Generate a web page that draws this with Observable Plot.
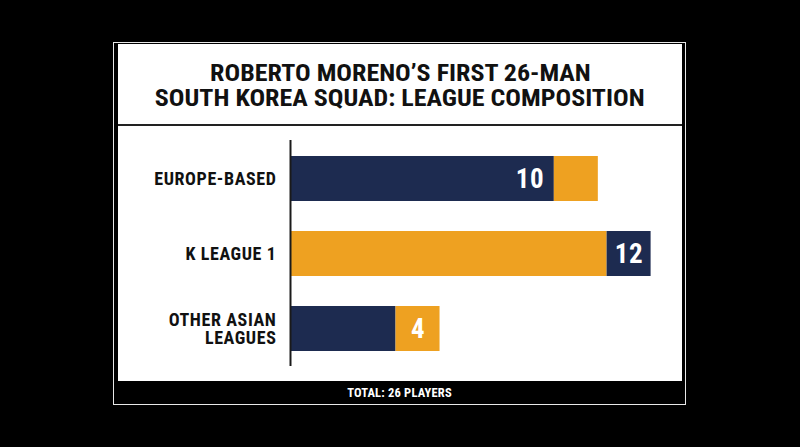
<!DOCTYPE html>
<html>
<head>
<meta charset="utf-8">
<script src="https://cdn.jsdelivr.net/npm/d3@7"></script>
<script src="https://cdn.jsdelivr.net/npm/@observablehq/plot@0.6"></script>
<style>
  html, body { margin: 0; padding: 0; background: #000; }
  body { width: 800px; height: 447px; position: relative; overflow: hidden;
         font-family: "Liberation Sans Narrow", "Roboto Condensed", "DejaVu Sans Condensed", sans-serif; }
  #frame { position: absolute; left: 113px; top: 42px; width: 573px; height: 363px;
           box-sizing: border-box; border: 1px solid #e8e8e8; background: #000; }
  #panel { position: absolute; left: 4px; top: 1px; width: 564px; height: 337px; background: #fff; }
  #title { height: 80px; box-sizing: border-box; padding-top: 17px; text-align: center;
           font-weight: bold; font-size: 23px; line-height: 25px; color: #111; }
  #title span { display: inline-block; transform: scaleX(1.13); transform-origin: 50% 50%; }
  #sep { height: 2px; background: #222; }
  #chart { position: absolute; left: 0; top: 82px; }
  #footer { position: absolute; left: 0; top: 338px; width: 571px; height: 23px; text-align: center;
            color: #fff; font-weight: bold; font-size: 12.5px; line-height: 23px; letter-spacing: 0.2px; }
</style>
</head>
<body>
<div id="frame">
  <div id="panel">
    <div id="title"><span>ROBERTO MORENO’S FIRST 26-MAN</span><br><span>SOUTH KOREA SQUAD: LEAGUE COMPOSITION</span></div>
    <div id="sep"></div>
    <div id="chart"></div>
  </div>
  <div id="footer">TOTAL: 26 PLAYERS</div>
</div>
<script>
const categories = ["EUROPE-BASED", "K LEAGUE 1", "OTHER ASIAN LEAGUES"];
const players = [10, 12, 4];
const barColors = ["#1d2b50", "#eea121", "#1d2b50"];
const tabColors = ["#eea121", "#1d2b50", "#eea121"];
const labelPlacement = ["inside", "tab", "tab"];

const rows = categories.map((c, i) => ({
  category: c, value: players[i], bar: barColors[i], tab: tabColors[i], place: labelPlacement[i]
}));

const font = '"Liberation Sans Narrow", "Roboto Condensed", "DejaVu Sans Condensed", sans-serif';

const chart = Plot.plot({
  width: 564,
  height: 254,
  marginLeft: 172,
  marginRight: 20,
  marginTop: 14,
  marginBottom: 14,
  style: { fontFamily: font, background: "transparent", overflow: "visible", letterSpacing: "0.6px" },
  x: { domain: [0, 14.1], axis: null },
  y: { domain: categories, paddingInner: 0.4, paddingOuter: 0.2 },
  marks: [
    Plot.barX(rows, { x1: 0, x2: "value", y: "category", fill: d => d.bar }),
    Plot.barX(rows, { x1: "value", x2: "value", y: "category", fill: d => d.tab, insetRight: -44 }),
    Plot.ruleX([0], { stroke: "#1a1a1a", strokeWidth: 2 }),
    Plot.axisY({
      tickSize: 0, tickPadding: 14, fontSize: 18, fontWeight: "bold", fill: "#111",
      lineHeight: 1,
      tickFormat: d => d.replace("ASIAN ", "ASIAN\n"), label: null
    }),
    Plot.text(rows.filter(d => d.place === "inside"), {
      x: "value", y: "category", text: d => String(d.value), textAnchor: "end", dx: -10,
      fill: "#fff", fontSize: 27, fontWeight: "bold"
    }),
    Plot.text(rows.filter(d => d.place === "tab"), {
      x: "value", y: "category", text: d => String(d.value), textAnchor: "middle", dx: 22,
      fill: "#fff", fontSize: 27, fontWeight: "bold"
    })
  ]
});
document.getElementById("chart").appendChild(chart);
</script>
</body>
</html>
